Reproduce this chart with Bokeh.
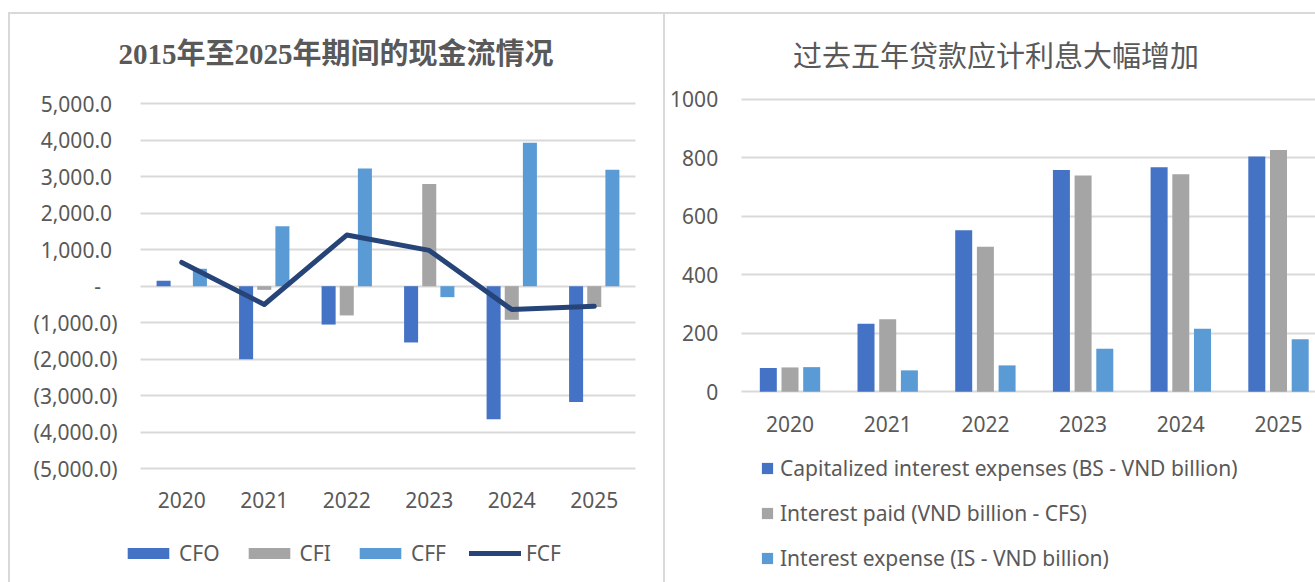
import numpy as np
from bokeh.plotting import figure
from bokeh.models import (Range1d, FixedTicker, Legend, LegendItem, Label,
                          ColumnDataSource, Spacer)
from bokeh.layouts import row, column
from bokeh.embed import file_html
from bokeh.resources import INLINE
from bokeh.transform import dodge

# ---------------- data ----------------
years = ["2020", "2021", "2022", "2023", "2024", "2025"]

# left chart: cash flows
cfo = [150, -2000, -1050, -1540, -3640, -3170]
cfi = [0, -100, -800, 2800, -920, -570]
cff = [480, 1640, 3220, -300, 3930, 3190]
fcf = [650, -500, 1400, 980, -640, -550]
left_ticks = [-5000, -4000, -3000, -2000, -1000, 0, 1000, 2000, 3000, 4000, 5000]
left_title = "2015年至2025年期间的现金流情况"
left_labels = ["CFO", "CFI", "CFF", "FCF"]

# right chart: interest
cap_int = [81, 232, 552, 758, 768, 804]
int_paid = [83, 248, 496, 739, 744, 827]
int_exp = [84, 73, 90, 147, 215, 179]
right_ticks = [0, 200, 400, 600, 800, 1000]
right_title = "过去五年贷款应计利息大幅增加"
right_labels = ["Capitalized interest expenses (BS - VND billion)",
                "Interest paid (VND billion - CFS)",
                "Interest expense (IS - VND billion)"]

# ---------------- style ----------------
FONT = "Noto Sans"
CJK = "Noto Sans CJK SC"
TXT = "#595959"
GRID = "#d9d9d9"
C1, C2, C3, C4 = "#4472C4", "#A5A5A5", "#5B9BD5", "#264478"


def acct(v):
    if v == 0:
        return "-\u00a0\u00a0\u00a0"
    s = f"{abs(v):,.1f}"
    return f"({s})" if v < 0 else s + "\u00a0"


def style_axes(p, yticks, ylabels, x_at, y_at, grid_len, xstand):
    """Axes pinned inside the frame; the y-axis ticks act as gridlines."""
    idx = list(range(len(years)))
    p.xaxis.ticker = FixedTicker(ticks=idx)
    p.xaxis.major_label_overrides = {i: y for i, y in zip(idx, years)}
    p.yaxis.ticker = FixedTicker(ticks=yticks)
    p.yaxis.major_label_overrides = {t: l for t, l in zip(yticks, ylabels)}
    for ax in (p.xaxis, p.yaxis):
        ax.axis_line_color = None
        ax.minor_tick_line_color = None
        ax.major_label_text_font = FONT
        ax.major_label_text_font_size = "21px"
        ax.major_label_text_color = TXT
        ax.level = "underlay"
    p.xaxis.major_tick_line_color = None
    p.xaxis.major_tick_in = 0
    p.xaxis.major_tick_out = 0
    p.xaxis.fixed_location = x_at
    p.xaxis.major_label_standoff = xstand
    p.yaxis.fixed_location = y_at
    p.yaxis.major_tick_out = 0
    p.yaxis.major_tick_in = grid_len
    p.yaxis.major_tick_line_color = GRID
    p.yaxis.major_tick_line_width = 2
    p.yaxis.major_label_standoff = 23
    p.grid.visible = False
    p.outline_line_color = None


idx = list(range(len(years)))

# ---------------- left figure (canvas 653 x 568) ----------------
p1 = figure(width=653, height=568,
            x_range=Range1d(-2.0758, 5.8394), y_range=Range1d(-8111, 7438),
            output_backend="svg", toolbar_location=None, title=None,
            min_border=0)
style_axes(p1, left_ticks, [acct(t) for t in left_ticks],
           x_at=-5000, y_at=-0.5, grid_len=495, xstand=23)

src1 = ColumnDataSource(dict(x=idx, cfo=cfo, cfi=cfi, cff=cff, fcf=fcf))
r1 = p1.vbar(x=dodge("x", -0.22), top="cfo", bottom=0, width=0.17,
             source=src1, fill_color=C1, line_color=None)
r2 = p1.vbar(x=dodge("x", 0.0), top="cfi", bottom=0, width=0.17,
             source=src1, fill_color=C2, line_color=None)
r3 = p1.vbar(x=dodge("x", 0.22), top="cff", bottom=0, width=0.17,
             source=src1, fill_color=C3, line_color=None)
r4 = p1.line(x="x", y="fcf", source=src1, line_color=C4, line_width=5,
             line_cap="round", line_join="round")

leg1 = Legend(items=[LegendItem(label=l, renderers=[r]) for l, r in
                     zip(left_labels, [r1, r2, r3, r4])],
              orientation="horizontal", location=(112, 15),
              glyph_width=52, glyph_height=14, label_standoff=5, spacing=23,
              label_height=20, padding=0, margin=0, border_line_color=None,
              background_fill_alpha=0, label_text_font=FONT,
              label_text_font_size="21px", label_text_color=TXT)
p1.add_layout(leg1)

p1.add_layout(Label(x=325.5, y=529, x_units="screen", y_units="screen",
                    text=left_title, text_align="center", text_baseline="middle",
                    text_font="Liberation Serif, Noto Sans CJK SC",
                    text_font_style="bold", text_font_size="29px",
                    text_color=TXT))

# ---------------- right figure (canvas 650 x 568) ----------------
p2 = figure(width=650, height=568,
            x_range=Range1d(-1.2743, 5.3787), y_range=Range1d(-652.5, 1290),
            output_backend="svg", toolbar_location=None, title=None,
            min_border=0)
style_axes(p2, right_ticks, [str(t) for t in right_ticks],
           x_at=0, y_at=-0.5, grid_len=575, xstand=24)

src2 = ColumnDataSource(dict(x=idx, a=cap_int, b=int_paid, c=int_exp))
q1 = p2.vbar(x=dodge("x", -0.222), top="a", bottom=0, width=0.174,
             source=src2, fill_color=C1, line_color=None)
q2 = p2.vbar(x=dodge("x", 0.0), top="b", bottom=0, width=0.174,
             source=src2, fill_color=C2, line_color=None)
q3 = p2.vbar(x=dodge("x", 0.222), top="c", bottom=0, width=0.174,
             source=src2, fill_color=C3, line_color=None)

leg2 = Legend(items=[LegendItem(label=l, renderers=[r]) for l, r in
                     zip(right_labels, [q1, q2, q3])],
              orientation="vertical", location=(95, 10),
              glyph_width=14, glyph_height=14, label_standoff=6, spacing=17,
              label_height=20, padding=0, margin=0, border_line_color=None,
              background_fill_alpha=0, label_text_font=FONT,
              label_text_font_size="21px", label_text_color=TXT)
p2.add_layout(leg2)

p2.add_layout(Label(x=330.5, y=529, x_units="screen", y_units="screen",
                    text=right_title, text_align="center", text_baseline="middle",
                    text_font=CJK, text_font_size="29px", text_color=TXT))

# ---------------- chart frames (light grey borders) ----------------
def vline():
    return Spacer(width=2, height=570, styles={"background-color": GRID})


def hline(w):
    return Spacer(width=w, height=2, styles={"background-color": GRID})


layout = column(
    Spacer(width=1315, height=12),
    row(Spacer(width=8, height=570), vline(),
        column(hline(653), p1), vline(),
        column(hline(650), p2)),
)
open("out.html", "w").write(file_html(layout, INLINE))
